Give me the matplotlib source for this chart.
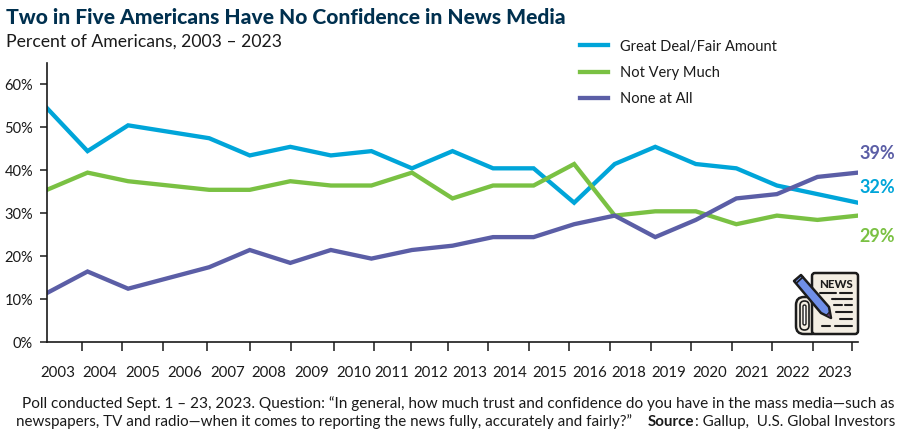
import numpy as np
import matplotlib.pyplot as plt
from matplotlib.patches import FancyBboxPatch, Polygon

plt.rcParams['font.family'] = ['Lato', 'DejaVu Sans']

# Values, one point per survey
great_deal = [54.4, 44.4, 50.4, 48.9, 47.4, 43.4, 45.4, 43.4, 44.4, 40.4, 44.4,
              40.4, 40.4, 32.4, 41.4, 45.4, 41.4, 40.4, 36.4, 34.4, 32.4]
not_very = [35.4, 39.4, 37.4, 36.4, 35.4, 35.4, 37.4, 36.4, 36.4, 39.4, 33.4,
            36.4, 36.4, 41.4, 29.4, 30.4, 30.4, 27.4, 29.4, 28.4, 29.4]
none_at_all = [11.4, 16.4, 12.4, 14.9, 17.4, 21.4, 18.4, 21.4, 19.4, 21.4, 22.4,
               24.4, 24.4, 27.4, 29.4, 24.4, 28.4, 33.4, 34.4, 38.4, 39.4]
years = ['2003', '2004', '2005', '2006', '2007', '2008', '2009', '2010', '2011', '2012',
         '2013', '2014', '2015', '2016', '2018', '2019', '2020', '2021', '2022', '2023']
end_labels = ['39%', '32%', '29%']

# Year boundaries and year label centres on the x axis, in pixels of the 900 wide picture
tick_px = [82, 122, 163, 207, 250, 291, 334, 374, 411, 448,
           488, 529, 569, 610, 651, 691, 732, 772, 813, 852]
label_px = [58, 100, 143, 185, 228, 269, 312, 354, 392, 431,
            470, 510, 550, 590, 629, 669, 710, 752, 793, 835]

BLUE = '#00a5d9'
GREEN = '#7ac143'
PURPLE = '#5b5ea6'
NAVY = '#00304f'
DARK = '#1a1a1a'

W, H = 900, 432
fig = plt.figure(figsize=(9, 4.32), dpi=100)
ax = fig.add_axes([47 / W, (H - 342) / H, (858 - 47) / W, (342 - 63) / H])


def to_x(px):
    return (np.array(px) - 47) / (858 - 47) * 20


x = np.arange(len(great_deal))
ax.plot(x, great_deal, color=BLUE, lw=3.1, solid_joinstyle='miter', label='Great Deal/Fair Amount')
ax.plot(x, not_very, color=GREEN, lw=3.1, solid_joinstyle='miter', label='Not Very Much')
ax.plot(x, none_at_all, color=PURPLE, lw=3.1, solid_joinstyle='miter', label='None at All')

ax.set_xlim(0, 20)
ax.set_ylim(0, 64.9)
ax.set_yticks(range(0, 61, 10))
ax.set_yticklabels([f'{v}%' for v in range(0, 61, 10)], fontsize=10.5, color=DARK)
ax.tick_params(axis='y', length=5, width=1.1, color=DARK, pad=5)

# major ticks mark the year edges, labels sit on hidden minor ticks between them
ax.set_xticks(to_x(tick_px))
ax.set_xticklabels([])
ax.tick_params(axis='x', which='major', length=6.5, width=1.1, color=DARK)
ax.set_xticks(to_x(label_px), minor=True)
ax.set_xticklabels(years, minor=True, fontsize=10.8, color=DARK)
ax.tick_params(axis='x', which='minor', length=0, pad=17)

for s in ['top', 'right']:
    ax.spines[s].set_visible(False)
for s in ['left', 'bottom']:
    ax.spines[s].set_linewidth(1.2)
    ax.spines[s].set_color(DARK)

fig.text(6 / W, 1 - 18 / H, 'Two in Five Americans Have No Confidence in News Media',
         fontsize=15.1, fontweight='black', color=NAVY, va='center')
fig.text(6 / W, 1 - 42 / H, 'Percent of Americans, 2003 \u2013 2023',
         fontsize=12.7, color=DARK, va='center')

fig.legend(loc='upper left', bbox_to_anchor=(580 / W, 1 - 39.5 / H), frameon=False,
           fontsize=10.5, labelcolor=DARK, handlelength=1.92, handletextpad=0.82,
           labelspacing=0.85, borderpad=0, borderaxespad=0)

# end of line labels
for txt, col, py in zip(end_labels, [PURPLE, BLUE, GREEN], [153, 188, 236]):
    fig.text(877 / W, 1 - py / H, txt, fontsize=13, fontweight='bold', color=col,
             ha='center', va='center')

# footnote, second line is laid out from the right so Source can be bold
fig.text(895 / W, 1 - 404 / H,
         'Poll conducted Sept. 1 \u2013 23, 2023. Question: \u201cIn general, how much trust and '
         'confidence do you have in the mass media\u2014such as',
         fontsize=11.05, color=DARK, ha='right', va='center')
renderer = fig.canvas.get_renderer()
right = 895
for txt, weight in [(': Gallup,  U.S. Global Investors', 'normal'), ('Source', 'bold'),
                    ('newspapers, TV and radio\u2014when it comes to reporting the news fully, '
                     'accurately and fairly?\u201d  ', 'normal')]:
    t = fig.text(right / W, 1 - 426 / H, txt, fontsize=10.9, fontweight=weight, color=DARK,
                 ha='right', va='baseline')
    right = t.get_window_extent(renderer).x0 - (8 if weight == 'bold' else 0)

# newspaper icon, drawn on an overlay in picture pixels
icon = fig.add_axes([0, 0, 1, 1], facecolor='none')
icon.set_xlim(0, W)
icon.set_ylim(H, 0)
icon.axis('off')
ink = '#1c1c1c'
paper = '#f3eee3'
icon.add_patch(FancyBboxPatch((796, 297), 24, 37, boxstyle='round,pad=0,rounding_size=8',
                              fc=paper, ec=ink, lw=1.8))
icon.add_patch(FancyBboxPatch((812, 273), 46, 61, boxstyle='round,pad=0,rounding_size=3',
                              fc=paper, ec=ink, lw=1.8))
icon.add_patch(FancyBboxPatch((800, 301), 9, 29, boxstyle='round,pad=0,rounding_size=4.5',
                              fc=paper, ec=ink, lw=1.2))
icon.add_patch(FancyBboxPatch((803, 305), 3, 20, boxstyle='round,pad=0,rounding_size=1.5',
                              fc='#ffffff', ec=ink, lw=1.0))
icon.text(836, 284.5, 'NEWS', fontsize=8.2, fontweight='black', color=ink, ha='center', va='center')
for x0, x1, py in [(820, 836, 293), (840, 852, 293), (832, 836, 299), (835, 852, 299),
                   (834, 842, 305), (845, 852, 305), (836, 852, 312), (840, 852, 319),
                   (822, 830, 326), (835, 852, 326)]:
    icon.plot([x0, x1], [py, py], color=ink, lw=1.5, solid_capstyle='round')
icon.add_patch(Polygon([(794, 281), (801, 275), (829, 307), (831, 318), (821, 313)],
                       closed=True, fc='#6f8fe8', ec=ink, lw=1.8, joinstyle='round'))
icon.add_patch(Polygon([(826, 315.5), (829.5, 312), (831, 318)], closed=True, fc='#5b3a6e', ec=ink, lw=0.8))
icon.plot([796.5, 803], [283, 277], color=ink, lw=1.2)

fig.savefig('out.png', dpi=100)
